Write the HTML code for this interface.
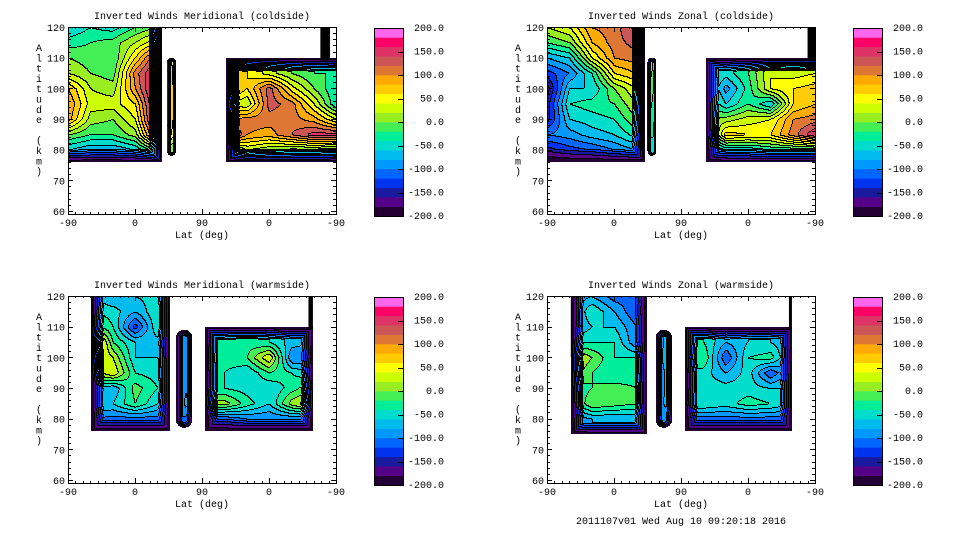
<!DOCTYPE html>
<html><head><meta charset="utf-8"><style>
html,body{margin:0;padding:0;background:#fff;width:960px;height:540px;overflow:hidden}
#wrap{position:relative;width:960px;height:540px}
canvas{position:absolute;image-rendering:pixelated}
svg{position:absolute;left:0;top:0}
text{font-family:"Liberation Mono","DejaVu Sans Mono",monospace;font-size:10px;fill:#000}
</style></head><body>
<div id="wrap">
<canvas id="c0" width="268" height="187" style="left:68px;top:27px"></canvas>
<canvas id="c1" width="268" height="187" style="left:547px;top:27px"></canvas>
<canvas id="c2" width="268" height="187" style="left:68px;top:296px"></canvas>
<canvas id="c3" width="268" height="187" style="left:547px;top:296px"></canvas>
<svg id="ov" width="960" height="540"></svg>
</div>
<script>
// ---- data ----
const lonCols = [0,30,60,90,120,150,180,210,240,270,300,330,360];
const altRows = [120,115,110,105,100,95,90,85,80];
const levels = [-200,-150,-100,-50,0,50,100,150,200];
const xTickLabels = ["-90","0","90","0","-90"];
const yTickLabels = [60,70,80,90,100,110,120];
const titles = ["Inverted Winds Meridional (coldside)","Inverted Winds Zonal (coldside)","Inverted Winds Meridional (warmside)","Inverted Winds Zonal (warmside)"];
const merCold = [
[-60,-30,0,20,80,100,90,0,-60],[-40,-20,-10,0,20,30,10,-20,-80],[-50,-10,-20,-10,10,30,0,-20,-80],
[-20,20,60,110,100,60,40,10,-60],[0,60,150,180,190,190,190,150,0],[0,0,0,0,0,0,0,0,0],
[100,100,100,100,110,40,100,180,-50],[100,100,100,100,110,40,100,180,-50],[60,60,60,60,60,20,110,100,20],
[30,30,30,30,130,130,110,90,0],[0,0,0,0,50,110,110,120,-10],[-20,-20,-20,-20,0,40,90,150,-10],
[-30,-20,-30,-20,-40,-40,40,150,-20]];
const zonCold = [
[20,-20,-80,-130,-170,-150,-150,-100,-150],[40,0,-60,-100,-60,-40,-60,-90,-130],[100,80,40,-40,-60,-30,-50,-70,-120],
[110,110,100,60,0,-20,-40,-60,-100],[150,130,110,80,40,20,0,-30,-80],[-40,-40,-40,-40,-40,-40,-40,-40,-40],
[-30,-30,-30,-30,0,10,-10,-60,-110],[-30,-30,-30,-30,0,10,-10,-60,-110],[-50,-50,-50,-50,-90,-60,10,70,-60],
[-20,-20,-20,-20,-30,-20,30,60,-60],[40,40,40,40,40,-60,40,60,-40],[30,30,30,30,60,60,100,110,-40],
[40,40,40,40,70,80,110,160,-40]];
const merWarm = [
[-60,-40,0,120,60,0,-60,-60,-100],[-60,-40,0,120,60,0,-60,-60,-100],[-80,-50,-40,-20,20,40,-80,-60,-110],
[-60,-80,-130,-60,-60,-40,-10,-20,-110],[-50,-40,-40,-70,-60,-50,-40,-60,-110],[-100,-100,-100,-100,-100,-100,-100,-100,-100],
[-40,-40,-40,-40,-30,-40,-40,10,-120],[-40,-40,-40,-40,-30,-40,-40,10,-120],[-30,-30,-30,-30,-20,-60,-50,-30,-100],
[-40,-40,-40,-40,40,-20,-60,-60,-100],[-70,-70,-70,-70,-100,-40,-30,10,-100],[-80,-80,-80,-80,-100,-60,0,40,-100],
[-80,-80,-80,-80,-100,-60,0,40,-100]];
const zonWarm = [
[-100,-100,-90,-40,40,20,-40,-60,-100],[-100,-100,-90,-40,40,20,-40,-60,-100],[-80,-40,-60,-40,0,-20,-20,0,-80],
[-110,-80,-60,-40,-40,-40,-10,-10,-80],[-110,-120,-100,-100,-40,-30,-20,-20,-80],[-90,-90,-90,-90,-90,-90,-90,-90,-90],
[-40,-40,-40,-40,-20,-50,-50,-40,-110],[-40,-40,-40,-40,-20,-50,-50,-40,-110],[-80,-80,-80,-80,-120,-80,-50,-50,-110],
[-60,-60,-60,-60,-40,-50,-50,-30,-110],[-60,-60,-60,-60,-30,-120,-60,-40,-110],[-80,-80,-80,-80,-100,-60,-60,-60,-110],
[-80,-80,-80,-80,-100,-60,-60,-60,-110]];
// ---- layout ----
const PW=268, PH=187, AMIN=59, AMAX=120;
const panels=[
 {grid:merCold,ox:68,oy:27,
  regions:[{x0:0,x1:126,a0:76,a1:120,w:13},{x0:133,x1:145,a0:78,a1:110,w:3,round:true},{x0:212,x1:360,a0:76,a1:110,w:13}],
  blacks:[{x0:119,x1:126,a0:80,a1:120},{x0:339,x1:352,a0:109,a1:120}]},
 {grid:zonCold,ox:547,oy:27,
  regions:[{x0:0,x1:131,a0:76,a1:120,w:13},{x0:135,x1:147,a0:78,a1:110,w:3,round:true},{x0:213,x1:360,a0:76,a1:110,w:13}],
  blacks:[{x0:124,x1:131,a0:80,a1:120},{x0:350,x1:360,a0:109,a1:120}]},
 {grid:merWarm,ox:68,oy:296,
  regions:[{x0:31,x1:137,a0:76,a1:120,w:12},{x0:145,x1:167,a0:77,a1:109,w:6,round:true},{x0:184,x1:329,a0:76,a1:110,w:12}],
  blacks:[{x0:31,x1:34,a0:95,a1:120},{x0:323,x1:329,a0:109,a1:120}]},
 {grid:zonWarm,ox:547,oy:296,
  regions:[{x0:32,x1:134,a0:75,a1:120,w:12},{x0:146,x1:168,a0:77,a1:109,w:6,round:true},{x0:185,x1:329,a0:76,a1:110,w:12}],
  blacks:[{x0:32,x1:34,a0:100,a1:120},{x0:325,x1:329,a0:109,a1:120}]}
];
const colors=["#220033","#550088","#1a1aa0","#0033ee","#0066ff","#0099ff","#00bbee","#00ddcc","#00ee99","#44ee55",
"#99ee22","#ccff00","#ffff00","#ffcc00","#ffaa00","#dd7733","#cc5555","#dd3366","#ff0066","#ff66ee"];
function xS(d){return d/360*PW;}
function aS(a){return (AMAX-a)/(AMAX-AMIN)*PH;}
function sample(grid,xd,alt){
  let cf=Math.max(0,Math.min(11.999,xd/30));let c=Math.floor(cf),tx=cf-c;
  let rf=Math.max(0,Math.min(7.999,(120-alt)/5));let r=Math.floor(rf),ty=rf-r;
  const a=grid[c][r],b=grid[c+1][r],cc=grid[c][r+1],d=grid[c+1][r+1];
  return a*(1-tx)*(1-ty)+b*tx*(1-ty)+cc*(1-tx)*ty+d*tx*ty;
}
function hex(h){return [parseInt(h.substr(1,2),16),parseInt(h.substr(3,2),16),parseInt(h.substr(5,2),16)];}
const rgb=colors.map(hex);
function edgeDist(reg,px,py){
  const X=px+0.5,Y=py+0.5;
  if(reg.round){
    const L=xS(reg.x0),R=xS(reg.x1),rad=(R-L)/2,cxp=(L+R)/2;
    const T=aS(reg.a1)+rad,B=aS(reg.a0)-rad;
    const yy=Math.max(T,Math.min(B,Y));
    return rad-Math.hypot(X-cxp,Y-yy);
  }
  const ds=[];
  if(reg.x0>0)ds.push(X-xS(reg.x0));
  if(reg.x1<360)ds.push(xS(reg.x1)-X);
  if(reg.a1<AMAX)ds.push(Y-aS(reg.a1));
  ds.push(aS(reg.a0)-Y);
  return Math.min(...ds);
}
panels.forEach((p,i)=>{
  const cv=document.getElementById('c'+i),ctx=cv.getContext('2d');
  const img=ctx.createImageData(PW,PH);
  const band=new Int16Array(PW*PH).fill(-99);
  for(let py=0;py<PH;py++)for(let px=0;px<PW;px++){
    const xd=(px+0.5)/PW*360, alt=AMAX-(py+0.5)/PH*(AMAX-AMIN);
    let reg=null,d=0;
    for(const r of p.regions){if(xd>=r.x0&&xd<=r.x1&&alt>=r.a0&&alt<=r.a1){const dd=edgeDist(r,px,py);if(dd>=0){reg=r;d=dd;break;}}}
    if(!reg)continue;
    let v=sample(p.grid,xd,alt);
    const t=Math.max(0,1-d/reg.w);
    v=v+(-199-v)*Math.pow(t,0.8);
    let b=Math.floor((v+200)/20);if(b<0)b=0;if(b>19)b=19;
    band[py*PW+px]=b;
  }
  for(let py=0;py<PH;py++)for(let px=0;px<PW;px++){
    const k=py*PW+px,b=band[k],o=k*4;
    if(b===-99){img.data[o]=img.data[o+1]=img.data[o+2]=255;img.data[o+3]=255;continue;}
    let col=rgb[b];
    const l=px>0?band[k-1]:-99,tp=py>0?band[k-PW]:-99;
    if((l!==-99&&l!==b)||(tp!==-99&&tp!==b))col=[0,0,0];
    img.data[o]=col[0];img.data[o+1]=col[1];img.data[o+2]=col[2];img.data[o+3]=255;
  }
  ctx.putImageData(img,0,0);
  ctx.fillStyle='#000';
  p.blacks.forEach(bk=>{ctx.fillRect(xS(bk.x0),aS(bk.a1),xS(bk.x1)-xS(bk.x0),aS(bk.a0)-aS(bk.a1));});
});
// ---- axes ----
const NS='http://www.w3.org/2000/svg', ov=document.getElementById('ov');
function el(tag,attrs,parent){const e=document.createElementNS(NS,tag);for(const k in attrs)e.setAttribute(k,attrs[k]);(parent||ov).appendChild(e);return e;}
const panelNames=['meridional-coldside','zonal-coldside','meridional-warmside','zonal-warmside'];
panels.forEach((p,i)=>{
  const g=el('g',{});
  
  
  const fr=el('rect',{x:p.ox+0.5,y:p.oy+0.5,width:PW,height:PH,fill:'none',stroke:'#000','stroke-width':1},g);
  
  
  let dpath='';
  for(let a=60;a<=120;a+=2){const y=Math.round(p.oy+aS(a))+0.5;const L=(a%10===0)?5:3;
    dpath+=`M${p.ox} ${y}h${L}M${p.ox+PW} ${y}h${-L}`;}
  for(let x=0;x<=360;x+=10){const X=Math.round(p.ox+xS(x))+0.5;const L=(x%90===0)?5:2;
    dpath+=`M${X} ${p.oy+PH}v${-L}M${X} ${p.oy}v${L}`;}
  const tk=el('path',{d:dpath,stroke:'#000','stroke-width':1,fill:'none'},g);
  
  
  yTickLabels.forEach(a=>{const t=el('text',{x:p.ox-3,y:p.oy+aS(a)+4,'text-anchor':'end'},g);t.textContent=a;
    
    });
  xTickLabels.forEach((s,j)=>{const t=el('text',{x:p.ox+xS(j*90),y:p.oy+PH+12,'text-anchor':'middle'},g);t.textContent=s;
    
    });
  const xt=el('text',{x:p.ox+PW/2,y:p.oy+PH+24,'text-anchor':'middle'},g);xt.textContent='Lat (deg)';
  
  
  const tt=el('text',{x:p.ox+PW/2,y:p.oy-8,'text-anchor':'middle'},g);tt.textContent=titles[i];
  
  
  const yl=el('text',{x:p.ox-29,y:p.oy+24,'text-anchor':'middle'},g);
  
  
  'Altitude (km)'.split('').forEach((ch,k)=>{const ts=el('tspan',{x:p.ox-29,y:p.oy+24+k*10.3},yl);ts.textContent=ch===' '?'\u00a0':ch;});
  // colorbar
  const cx=p.ox+306, cy=p.oy+1, cw=29, ch=188;
  const cb=el('g',{},g);
  
  
  const bh=ch/20;
  for(let b=0;b<20;b++){const r=el('rect',{x:cx,y:cy+ch-(b+1)*bh,width:cw,height:bh+0.3,fill:colors[b]},cb);
    
    }
  el('rect',{x:cx+0.5,y:cy+0.5,width:cw,height:ch,fill:'none',stroke:'#000'},cb);
  levels.forEach(lv=>{const y=cy+ch-(lv+200)/400*ch;
    if(lv>-200&&lv<200)el('path',{d:`M${cx+cw} ${Math.round(y)+0.5}h-5`,stroke:'#000'},cb);
    const t=el('text',{x:cx+70,y:y+3,'text-anchor':'end'},cb);t.textContent=lv.toFixed(1);
    
    });
});
const ft=el('text',{x:681,y:524,'text-anchor':'middle'});ft.textContent='2011107v01 Wed Aug 10 09:20:18 2016';


</script>
</body></html>
